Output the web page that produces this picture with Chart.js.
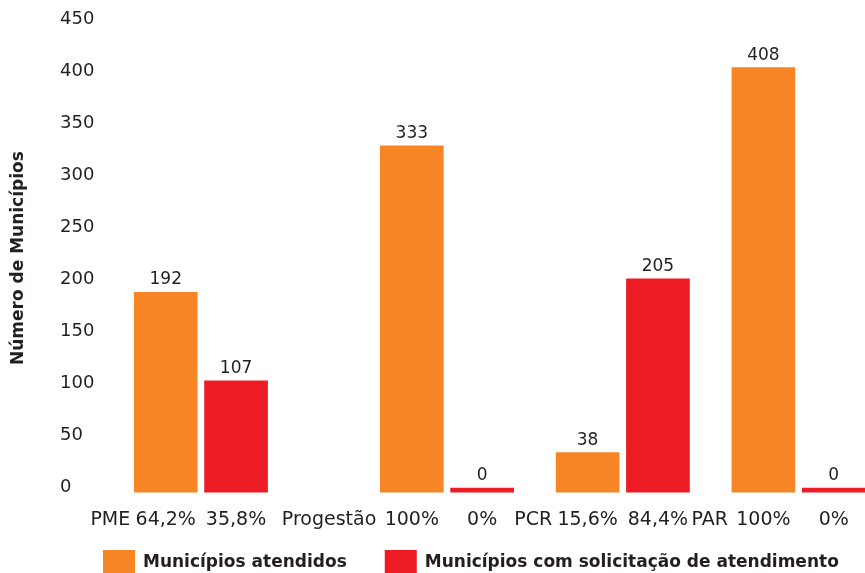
<!DOCTYPE html>
<html lang="pt">
<head>
<meta charset="utf-8">
<title>Municípios atendidos por programa</title>
<script src="https://cdn.jsdelivr.net/npm/chart.js@4.4.1/dist/chart.umd.min.js"></script>
<style>
  html, body { margin: 0; padding: 0; background: #fff; }
  #wrap { width: 865px; height: 573px; }
</style>
</head>
<body>
<div id="wrap"><canvas id="grafico"></canvas></div>
<script>
const programas = ["PME", "Progestão", "PCR", "PAR"];
const atendidos = [192, 333, 38, 408];
const comSolicitacao = [107, 0, 205, 0];
const pctAtendidos = ["64,2%", "100%", "15,6%", "100%"];
const pctSolicitacao = ["35,8%", "0%", "84,4%", "0%"];

const LARANJA = "#F58525";
const VERMELHO = "#ED1C24";
const TEXTO = "#231f20";
const FAMILIA = '"DejaVu Sans", sans-serif';

// one slot per half bar: room for the program name, the orange bar,
// a gap, the red bar, and a spare slot before the next program
const rotulosX = [];
const serieAtendidos = [];
const serieSolicitacao = [];
const slotNome = [];
programas.forEach((nome, i) => {
  const vazio = () => { rotulosX.push(""); serieAtendidos.push(null); serieSolicitacao.push(null); };
  if (i > 0) vazio();
  for (let k = 0; k < Math.ceil(nome.length / 4); k++) vazio();
  slotNome.push(rotulosX.length);
  rotulosX.push(pctAtendidos[i]); serieAtendidos.push(atendidos[i]); serieSolicitacao.push(null);
  vazio();
  rotulosX.push(pctSolicitacao[i]); serieAtendidos.push(null); serieSolicitacao.push(comSolicitacao[i]);
});

Chart.defaults.font.family = FAMILIA;
Chart.defaults.color = TEXTO;

const TICK_PAD_X = 16;
const FONTE_X = 19;

// numbers above the bars
const valoresNasBarras = {
  id: "valoresNasBarras",
  afterDatasetsDraw(chart) {
    const ctx = chart.ctx;
    ctx.save();
    ctx.font = "17px " + FAMILIA;
    ctx.fillStyle = TEXTO;
    ctx.textAlign = "center";
    ctx.textBaseline = "alphabetic";
    chart.data.datasets.forEach((ds, d) => {
      chart.getDatasetMeta(d).data.forEach((bar, i) => {
        if (ds.data[i] === null) return;
        ctx.fillText(String(ds.data[i]), bar.x, bar.y - 8);
      });
    });
    ctx.restore();
  }
};

// program names, just left of each orange bar, on the tick label line
const nomesProgramas = {
  id: "nomesProgramas",
  afterDraw(chart) {
    const ctx = chart.ctx;
    const eixo = chart.scales.x;
    const meta = chart.getDatasetMeta(0);
    const y = eixo.top + TICK_PAD_X + FONTE_X * 1.2 / 2;
    ctx.save();
    ctx.font = FONTE_X + "px " + FAMILIA;
    ctx.fillStyle = TEXTO;
    ctx.textAlign = "right";
    ctx.textBaseline = "middle";
    slotNome.forEach((slot, i) => {
      const bar = meta.data[slot];
      ctx.fillText(programas[i], bar.x - bar.width / 2 - 4, y);
    });
    ctx.restore();
  }
};

// legend row at the foot: colour square and bold series name
const legendaInferior = {
  id: "legendaInferior",
  afterDraw(chart) {
    const ctx = chart.ctx;
    const area = chart.chartArea;
    const caixaL = 32, caixaA = 23, folga = 8, entre = 38;
    const topo = chart.height - caixaA;
    ctx.save();
    ctx.font = "bold 17px " + FAMILIA;
    ctx.textBaseline = "middle";
    ctx.textAlign = "left";
    let x = area.left - 10;
    chart.data.datasets.forEach((ds) => {
      ctx.fillStyle = ds.backgroundColor;
      ctx.fillRect(x, topo, caixaL, caixaA);
      x += caixaL + folga;
      ctx.fillStyle = TEXTO;
      ctx.fillText(ds.label, x, topo + caixaA / 2 + 1);
      x += ctx.measureText(ds.label).width + entre;
    });
    ctx.restore();
  }
};

new Chart(document.getElementById("grafico"), {
  type: "bar",
  data: {
    labels: rotulosX,
    datasets: [
      {
        label: "Municípios atendidos",
        data: serieAtendidos,
        backgroundColor: LARANJA,
        borderWidth: 0,
        clip: false
      },
      {
        label: "Municípios com solicitação de atendimento",
        data: serieSolicitacao,
        backgroundColor: VERMELHO,
        borderWidth: 0,
        minBarLength: 4,
        clip: false
      }
    ]
  },
  options: {
    responsive: true,
    maintainAspectRatio: false,
    animation: false,
    layout: { padding: { top: 24, right: 9, bottom: 26, left: 0 } },
    datasets: {
      bar: { grouped: false, barThickness: 63, skipNull: true }
    },
    scales: {
      x: {
        grid: { display: false, drawTicks: false },
        border: { display: false },
        ticks: {
          autoSkip: false,
          maxRotation: 0,
          padding: TICK_PAD_X,
          font: { size: FONTE_X },
          color: TEXTO
        }
      },
      y: {
        min: 0,
        max: 450,
        grid: { display: false, drawTicks: false },
        border: { display: false },
        afterFit(s) { s.width = 113; },
        ticks: {
          stepSize: 50,
          mirror: true,
          crossAlign: "near",
          padding: -53,
          labelOffset: -5,
          font: { size: 18 },
          color: TEXTO
        },
        title: {
          display: true,
          text: "Número de Municípios",
          font: { size: 17, weight: "bold" },
          color: TEXTO,
          padding: { top: 8, bottom: 0 }
        }
      }
    },
    plugins: {
      legend: { display: false },
      tooltip: { enabled: false }
    }
  },
  plugins: [valoresNasBarras, nomesProgramas, legendaInferior]
});
</script>
</body>
</html>
